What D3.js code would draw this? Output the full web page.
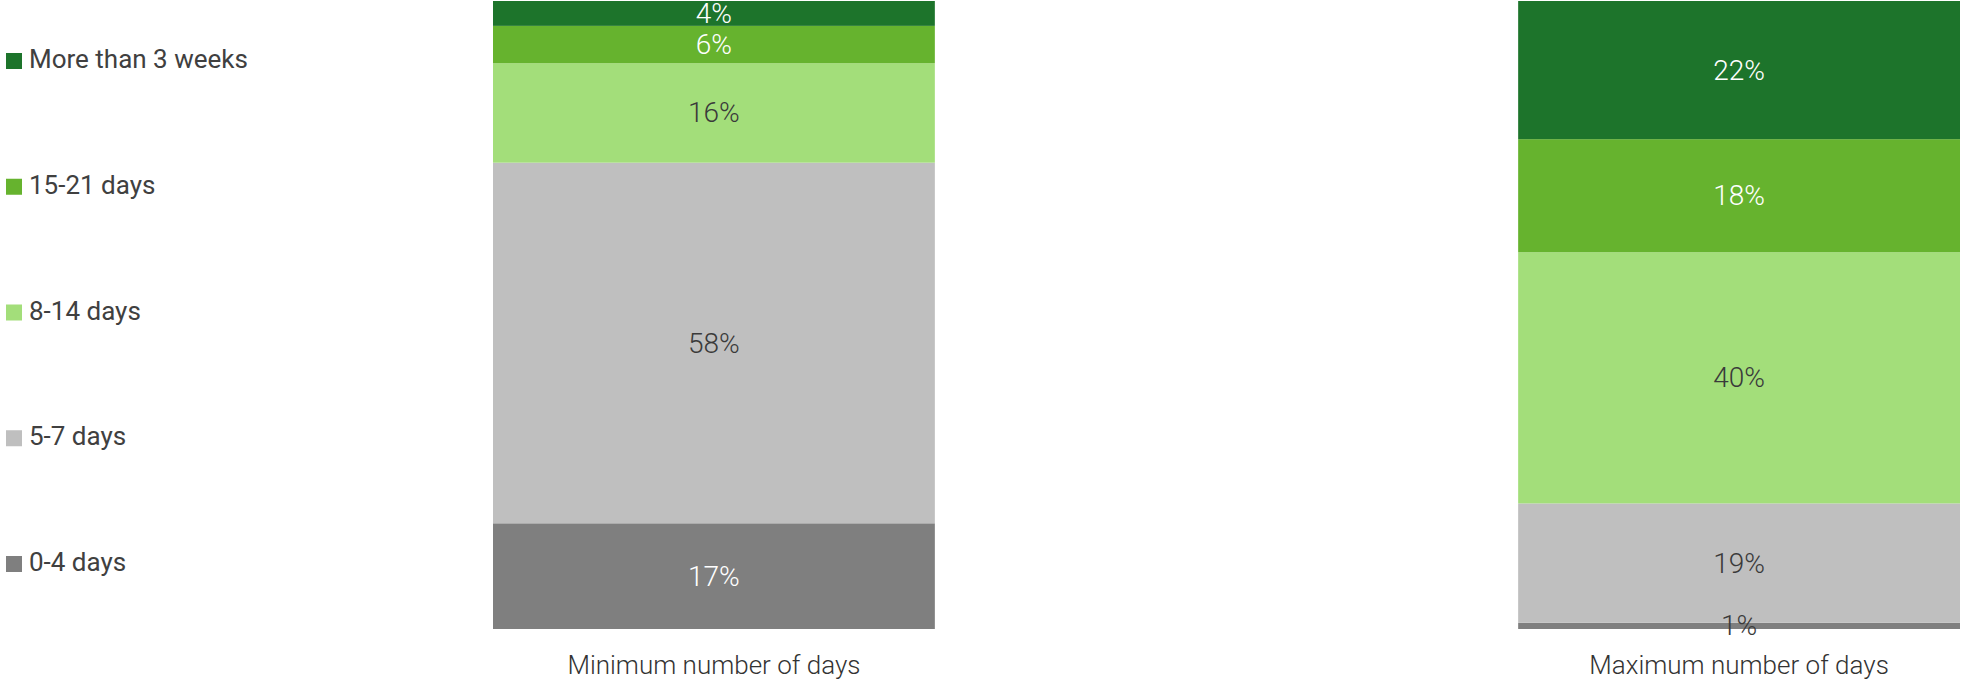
<!DOCTYPE html>
<html>
<head>
<meta charset="utf-8">
<script src="https://cdn.jsdelivr.net/npm/d3@7"></script>
<style>
  html, body { margin: 0; padding: 0; background: #ffffff; }
  svg { display: block; font-family: Roboto, "Open Sans", sans-serif; }
</style>
</head>
<body>
<svg id="chart" width="1962" height="681"></svg>
<script>
// Share of respondents by number of days, for the minimum and maximum cases
const categories = ["Minimum number of days", "Maximum number of days"];
const seriesKeys = ["0-4 days", "5-7 days", "8-14 days", "15-21 days", "More than 3 weeks"];
const minValues = [17, 58, 16, 6, 4];
const maxValues = [1, 19, 40, 18, 22];
const seriesColors = ["#7f7f7f", "#bfbfbf", "#a3de7a", "#66b32e", "#1d742b"];
const labelColors = ["#ffffff", "#3a3a3a", "#3a3a3a", "#ffffff", "#ffffff"];

const rows = categories.map((c, i) => {
  const vals = i === 0 ? minValues : maxValues;
  const row = { category: c };
  seriesKeys.forEach((k, j) => { row[k] = vals[j]; });
  return row;
});

const svg = d3.select("#chart");

const x = d3.scaleBand()
  .domain(categories)
  .range([493, 1960])
  .paddingInner(0.569)
  .paddingOuter(0);

const y = d3.scaleLinear().domain([0, 1]).range([629, 1]);

const color = d3.scaleOrdinal().domain(seriesKeys).range(seriesColors);
const textColor = d3.scaleOrdinal().domain(seriesKeys).range(labelColors);

// 100% stacked layout
const stacked = d3.stack().keys(seriesKeys).offset(d3.stackOffsetExpand)(rows);
const segments = stacked.flatMap(s => s.map(p => ({ p, key: s.key })));

svg.append("g").selectAll("rect")
  .data(segments)
  .join("rect")
  .attr("fill", d => color(d.key))
  .attr("x", d => x(d.p.data.category))
  .attr("width", x.bandwidth())
  .attr("y", d => y(d.p[1]))
  .attr("height", d => y(d.p[0]) - y(d.p[1]));

// Value labels centred in each segment, drawn above all bars; a label
// wider than its thin segment spills onto the neighbours, so it is drawn dark
svg.append("g").selectAll("text")
  .data(segments)
  .join("text")
  .attr("x", d => x(d.p.data.category) + x.bandwidth() / 2)
  .attr("y", d => (y(d.p[0]) + y(d.p[1])) / 2)
  .attr("dy", "0.34em")
  .attr("text-anchor", "middle")
  .attr("font-size", 28)
  .attr("font-weight", 300)
  .attr("fill", d => (y(d.p[0]) - y(d.p[1]) < 20) ? "#3a3a3a" : textColor(d.key))
  .text(d => d.p.data[d.key] + "%");

// Category axis (labels only)
const xAxis = svg.append("g")
  .attr("transform", "translate(0,629)")
  .call(d3.axisBottom(x).tickSize(0));
xAxis.select(".domain").remove();
xAxis.selectAll("text")
  .attr("font-family", "Roboto, sans-serif")
  .attr("font-size", 26)
  .attr("font-weight", 300)
  .attr("fill", "#333333")
  .attr("y", 45)
  .attr("dy", 0);

// Legend, top series first
const legendY = d3.scalePoint()
  .domain(seriesKeys.slice().reverse())
  .range([68, 571]);

const legend = svg.append("g").selectAll("g")
  .data(seriesKeys.slice().reverse())
  .join("g")
  .attr("transform", k => `translate(0,${legendY(k)})`);

legend.append("rect")
  .attr("x", 6)
  .attr("y", -15)
  .attr("width", 16)
  .attr("height", 16)
  .attr("fill", k => color(k));

legend.append("text")
  .attr("x", 29)
  .attr("y", 0)
  .attr("font-size", 26)
  .attr("fill", "#404040")
  .text(k => k);
</script>
</body>
</html>
